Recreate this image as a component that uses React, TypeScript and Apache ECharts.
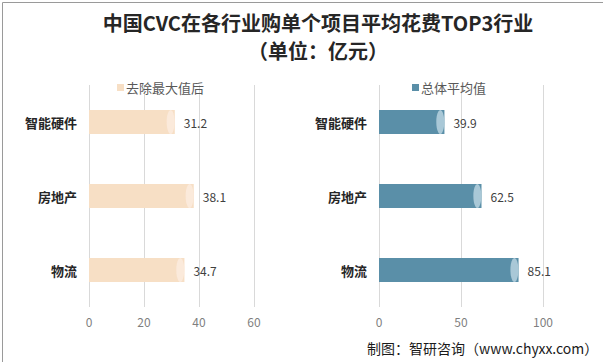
import React, { useEffect, useRef } from "react";
import * as echarts from "echarts";

const categories = ["智能硬件", "房地产", "物流"];
const excludeMaxValues = [31.2, 38.1, 34.7];
const overallAvgValues = [39.9, 62.5, 85.1];
const leftTicks = { min: 0, max: 60, interval: 20 };
const rightTicks = { min: 0, max: 100, interval: 50 };
const seriesNames = ["去除最大值后", "总体平均值"];
const titleLines = ["中国CVC在各行业购单个项目平均花费TOP3行业", "（单位：亿元）"];
const footer = "制图：智研咨询（www.chyxx.com）";

const FONT = '"Noto Sans CJK SC", "Noto Sans", sans-serif';

export default function App() {
  const ref = useRef<HTMLDivElement>(null);
  useEffect(() => {
    if (!ref.current) return;
    const chart = echarts.init(ref.current, null, { renderer: "svg" });
    const peach = "#f7dfc5";
    const peachCap = "#fbeadb";
    const blue = "#5a8fa8";
    const blueCap = "#a9c8d7";
    const catAxis = (gi: number) => ({
      type: "category",
      gridIndex: gi,
      data: categories,
      inverse: true,
      axisLine: { show: false },
      axisTick: { show: false },
      axisLabel: {
        color: "#262626",
        fontSize: 13,
        fontWeight: "bold",
        fontFamily: FONT,
        margin: 12,
      },
    });
    const valAxis = (gi: number, t: { min: number; max: number; interval: number }) => ({
      type: "value",
      gridIndex: gi,
      min: t.min,
      max: t.max,
      interval: t.interval,
      axisLine: { show: false },
      axisTick: { show: false },
      splitLine: { show: true, lineStyle: { color: "#d9d9d9", width: 1 } },
      axisLabel: { color: "#7f7f7f", fontSize: 12, fontFamily: FONT, margin: 8 },
    });
    const barSeries = (name: string, idx: number, data: number[], color: string) => ({
      name,
      type: "bar",
      xAxisIndex: idx,
      yAxisIndex: idx,
      data,
      barWidth: 24,
      itemStyle: { color },
      label: {
        show: true,
        position: "right",
        distance: 9,
        color: "#404040",
        fontSize: 12,
        fontFamily: FONT,
      },
      z: 2,
    });
    const capSeries = (idx: number, data: number[], color: string, border: string) => ({
      type: "pictorialBar",
      xAxisIndex: idx,
      yAxisIndex: idx,
      data,
      symbol: "circle",
      symbolSize: [8, 24],
      symbolPosition: "end",
      symbolOffset: [0, 0],
      itemStyle: { color, borderColor: border, borderWidth: 0.5 },
      silent: true,
      z: 3,
      tooltip: { show: false },
    });
    chart.setOption({
      animation: false,
      backgroundColor: "#ffffff",
      textStyle: { fontFamily: FONT },
      legend: [
        {
          data: [seriesNames[0]],
          left: 112,
          top: 76,
          itemWidth: 7,
          itemHeight: 7,
          itemGap: 4,
          icon: "rect",
          textStyle: { color: "#595959", fontSize: 13, fontFamily: FONT, padding: [0, 0, 0, -3] },
        },
        {
          data: [seriesNames[1]],
          left: 407,
          top: 76,
          itemWidth: 7,
          itemHeight: 7,
          icon: "rect",
          textStyle: { color: "#595959", fontSize: 13, fontFamily: FONT, padding: [0, 0, 0, -3] },
        },
      ],
      grid: [
        { left: 89, top: 85, width: 165, height: 222 },
        { left: 379, top: 85, width: 164, height: 222 },
      ],
      xAxis: [valAxis(0, leftTicks), valAxis(1, rightTicks)],
      yAxis: [catAxis(0), catAxis(1)],
      series: [
        barSeries(seriesNames[0], 0, excludeMaxValues, peach),
        capSeries(0, excludeMaxValues, peachCap, "#ecd2b8"),
        barSeries(seriesNames[1], 1, overallAvgValues, blue),
        capSeries(1, overallAvgValues, blueCap, "#8fb4c6"),
      ],
      graphic: [
        {
          type: "rect",
          left: 0,
          top: 0,
          shape: { width: 602, height: 361 },
          style: { fill: "none", stroke: "#9a9a9a", lineWidth: 1 },
          z: 10,
        },
        {
          type: "text",
          x: 318,
          y: 22,
          style: {
            text: titleLines[0],
            fontSize: 20,
            fontWeight: "bold",
            fontFamily: FONT,
            fill: "#262626",
            align: "center",
            verticalAlign: "middle",
          },
        },
        {
          type: "text",
          x: 318,
          y: 50,
          style: {
            text: titleLines[1],
            fontSize: 20,
            fontWeight: "bold",
            fontFamily: FONT,
            fill: "#262626",
            align: "center",
            verticalAlign: "middle",
          },
        },
        {
          type: "text",
          x: 367,
          y: 348,
          style: {
            text: footer,
            fontSize: 14,
            fontFamily: FONT,
            fill: "#1a1a1a",
            align: "left",
            verticalAlign: "middle",
          },
        },
      ],
    });
    return () => chart.dispose();
  }, []);
  return (
    <div
      ref={ref}
      style={{ position: "fixed", left: 0, top: 0, width: 603, height: 362 }}
    />
  );
}
